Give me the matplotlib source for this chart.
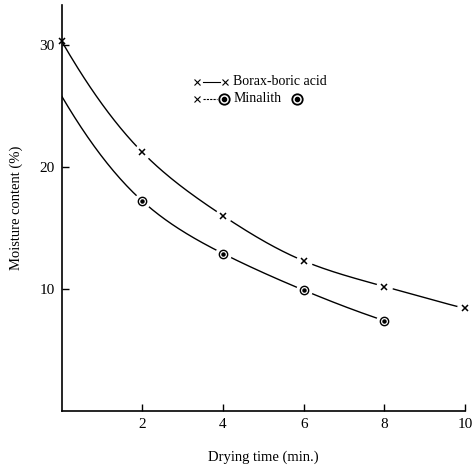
import matplotlib
matplotlib.use('Agg')
import matplotlib.pyplot as plt
import numpy as np

# Values
borax_t = [0, 2, 4, 6, 8, 10]
borax_m = [30.3, 21.2, 16.0, 12.3, 10.2, 8.4]
minal_t = [0, 2, 4, 6, 8]
minal_m = [25.8, 17.2, 12.9, 9.9, 7.4]

x_ticks = [2, 4, 6, 8, 10]
y_ticks = [10, 20, 30]

plt.rcParams['font.family'] = ['Liberation Serif', 'DejaVu Serif']


def spline_curve(xs, ys, num=200):
    """Natural cubic spline through the points in log space (drawing only)."""
    x = np.asarray(xs, float)
    y = np.log(np.asarray(ys, float))
    n = len(x)
    h = np.diff(x)
    A = np.zeros((n, n))
    b = np.zeros(n)
    A[0, 0] = A[-1, -1] = 1
    for i in range(1, n - 1):
        A[i, i - 1] = h[i - 1]
        A[i, i] = 2 * (h[i - 1] + h[i])
        A[i, i + 1] = h[i]
        b[i] = 3 * ((y[i + 1] - y[i]) / h[i] - (y[i] - y[i - 1]) / h[i - 1])
    c = np.linalg.solve(A, b)
    xx = np.linspace(x[0], x[-1], num)
    idx = np.clip(np.searchsorted(x, xx) - 1, 0, n - 2)
    d = xx - x[idx]
    hi = h[idx]
    bb = (y[idx + 1] - y[idx]) / hi - hi * (2 * c[idx] + c[idx + 1]) / 3
    dd = (c[idx + 1] - c[idx]) / (3 * hi)
    yy = y[idx] + bb * d + c[idx] * d ** 2 + dd * d ** 3
    return xx, np.exp(yy)


fig = plt.figure(figsize=(4.75, 4.74), dpi=100)
ax = fig.add_axes([0.130, 0.133, 0.849, 0.857])

for xs, ys in [(borax_t, borax_m), (minal_t, minal_m)]:
    cx, cy = spline_curve(xs, ys)
    ax.plot(cx, cy, '-', color='black', linewidth=1.0, zorder=2)

# white halos leave the small gaps around the markers
ax.plot(borax_t[1:], borax_m[1:], 'o', color='white', markersize=11,
        zorder=3, clip_on=False)
ax.plot(minal_t[1:], minal_m[1:], 'o', color='white', markersize=11,
        zorder=3, clip_on=False)
ax.plot(borax_t, borax_m, 'x', color='black', markersize=5,
        markeredgewidth=1.1, zorder=4, clip_on=False)
ax.plot(minal_t[1:], minal_m[1:], 'o', mfc='white', mec='black',
        markersize=6, markeredgewidth=1.0, zorder=4)
ax.plot(minal_t[1:], minal_m[1:], 'o', color='black', markersize=2.2,
        zorder=5)

# legend drawn by hand
tr = ax.transAxes
ax.plot([0.350, 0.392], [0.810, 0.810], '-', color='black', lw=0.8,
        transform=tr)
ax.plot([0.335, 0.404], [0.810, 0.810], 'x', color='black', ms=4,
        mew=0.8, transform=tr)
ax.text(0.424, 0.810, 'Borax-boric acid', transform=tr, fontsize=10,
        va='center', ha='left')
ax.plot([0.350, 0.384], [0.768, 0.768], '--', color='black', lw=0.8,
        dashes=(2, 1), transform=tr)
ax.plot([0.335], [0.768], 'x', color='black', ms=4, mew=0.8, transform=tr)
for xp in [0.402, 0.583]:
    ax.plot([xp], [0.768], 'o', mfc='white', mec='black', ms=7.5, mew=1.3,
            transform=tr)
    ax.plot([xp], [0.768], 'o', color='black', ms=3, transform=tr)
ax.text(0.427, 0.768, 'Minalith', transform=tr, fontsize=10,
        va='center', ha='left')

ax.set_xlim(0, 10)
ax.set_ylim(0, 33.3)
ax.set_xticks(x_ticks)
ax.set_yticks(y_ticks)
ax.tick_params(direction='in', length=5, width=1.0, labelsize=11, pad=5)
ax.spines['top'].set_visible(False)
ax.spines['right'].set_visible(False)
for s in ['left', 'bottom']:
    ax.spines[s].set_linewidth(1.2)

ax.set_xlabel('Drying time (min.)', fontsize=10.5, labelpad=14)
ax.set_ylabel('Moisture content (%)', fontsize=10.5, labelpad=12)

fig.savefig('out.png', dpi=100)
